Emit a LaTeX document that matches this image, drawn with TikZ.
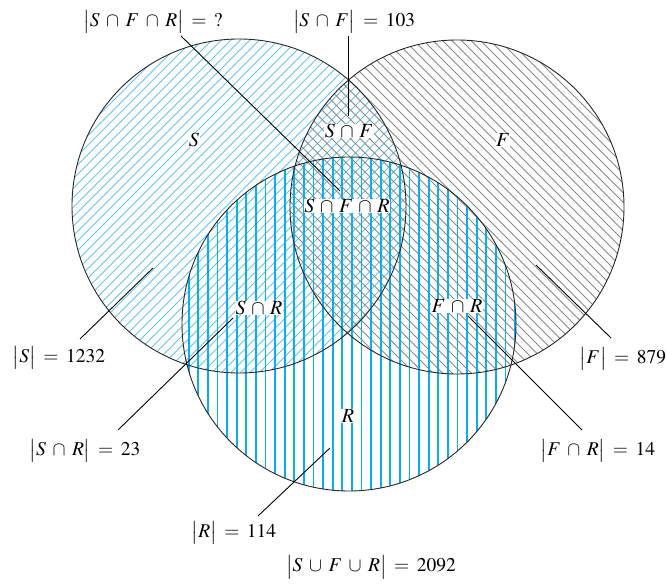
\documentclass[tikz,border=0pt]{standalone}
\usepackage{mathptmx}
\usetikzlibrary{positioning}
\definecolor{hatchblue}{RGB}{10,175,238}
\definecolor{hatchlight}{RGB}{100,198,240}
\definecolor{hatchgray}{RGB}{138,138,138}
\newcommand{\card}[1]{\bigl|#1\bigr|}
\tikzset{setcirc/.style={circle,draw=black!85,line width=0.9pt,minimum size=334pt,inner sep=0pt},
  lbl/.style={font=\fontsize{19.5}{24}\selectfont,inner sep=1pt,
    execute at begin node={\medmuskip=6mu\relax\thickmuskip=7mu\relax}},
  inlbl/.style={font=\fontsize{20}{24}\selectfont,fill=white,inner sep=0.5pt,
    execute at begin node={\medmuskip=5mu\relax}},
  ptr/.style={line width=0.9pt,black}}

\begin{document}
\begin{tikzpicture}[x=1pt,y=1pt]
\useasboundingbox (0,0) rectangle (666,586);
% hatching of the three sets
\begin{scope}
\clip (239,380) circle (167);
\foreach \c in {-600,-590.5,...,700}
  \draw[hatchlight,line width=0.8pt] (\c,0) -- ++(600,600);
\end{scope}
\begin{scope}
\clip (457,379) circle (167);
\foreach \c in {0,9.5,...,1300}
  \draw[hatchgray,line width=0.8pt] (\c,0) -- ++(-600,600);
\end{scope}
\begin{scope}
\clip (349,262) circle (167);
\foreach \c in {179,188.6,...,520}
  \draw[hatchblue,line width=1.8pt] (\c,90) -- (\c,430);
\end{scope}
% circles
\node[setcirc] (S) at (239,380) {};
\node[setcirc] (F) at (457,379) {};
\node[setcirc] (R) at (349,262) {};
% region labels
\node[inlbl] (nS) at (194,446) {$S$};
\node[inlbl] (nF) at (503,446) {$F$};
\node[inlbl] (nSF) at (349,455) {$S\cap F$};
\node[inlbl] (nSFR) at (347,380) {$S\cap F\cap R$};
\node[inlbl] (nSR) at (259,278) {$S\cap R$};
\node[inlbl] (nFR) at (457,280) {$F\cap R$};
\node[inlbl] (nR) at (348,170) {$R$};
% counts
\node[lbl] (cSFR) at (153,564) {$\card{S\cap F\cap R} = {?}$};
\node[lbl] (cSF) at (354,564) {$\card{S\cap F} = 103$};
\node[lbl] (cS) at (59,228) {$\card{S} = 1232$};
\node[lbl] (cF) at (623,227) {$\card{F} = 879$};
\node[lbl] (cSR) at (85,135) {$\card{S\cap R} = 23$};
\node[lbl] (cFR) at (598,135) {$\card{F\cap R} = 14$};
\node[lbl] (cR) at (234,53) {$\card{R} = 114$};
\node[lbl] (cAll) at (371,19) {$\card{S\cup F\cup R} = 2092$};
% pointers
\coordinate (pSFRa) at (181,550); \coordinate (pSFRb) at (340,395);
\coordinate (pSFa) at (348,550);  \coordinate (pSFb) at (348,470);
\coordinate (pSa) at (80,247);    \coordinate (pSb) at (153,318);
\coordinate (pFa) at (611,248);   \coordinate (pFb) at (536,321);
\coordinate (pSRa) at (118,156);  \coordinate (pSRb) at (233,268);
\coordinate (pFRa) at (582,156);  \coordinate (pFRb) at (468,270);
\coordinate (pRa) at (258,70);    \coordinate (pRb) at (330,138);
\draw[ptr] (pSFRa) -- (pSFRb);
\draw[ptr] (pSFa) -- (pSFb);
\draw[ptr] (pSa) -- (pSb);
\draw[ptr] (pFa) -- (pFb);
\draw[ptr] (pSRa) -- (pSRb);
\draw[ptr] (pFRa) -- (pFRb);
\draw[ptr] (pRa) -- (pRb);
\end{tikzpicture}
\end{document}
